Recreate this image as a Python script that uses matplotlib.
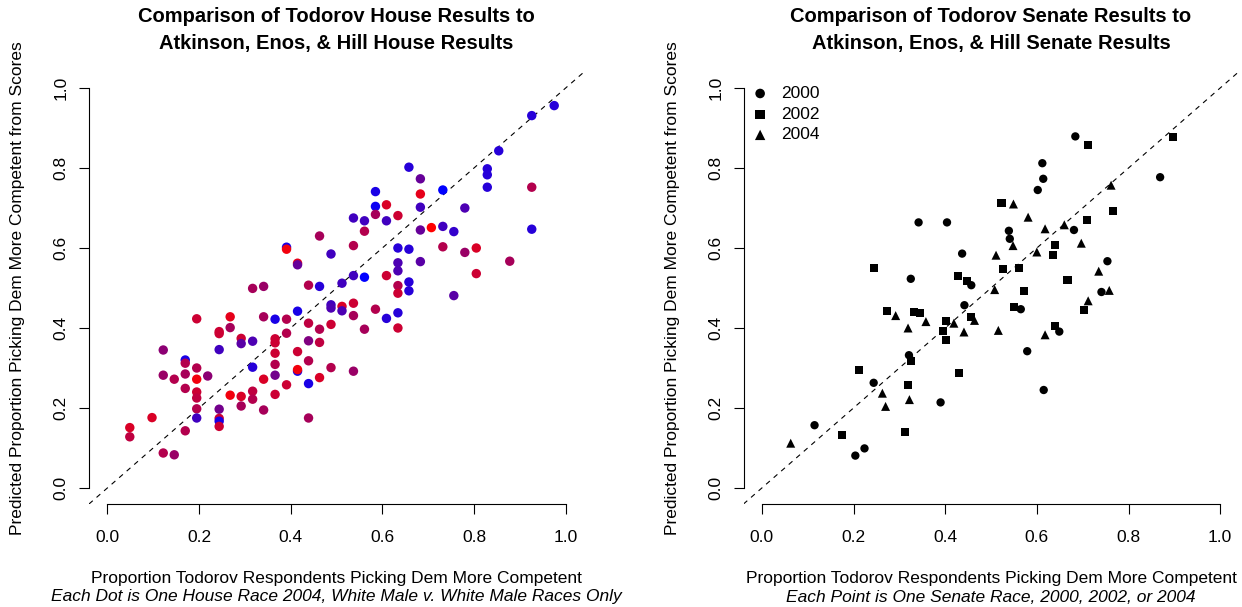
import numpy as np
import matplotlib
matplotlib.use("Agg")
import matplotlib.pyplot as plt

plt.rcParams['font.family'] = ['Liberation Sans', 'DejaVu Sans']

# House races: x = Todorov share, y = predicted share, c = 0 red ... 1 blue
house_x = [0.975, 0.926, 0.854, 0.829, 0.829, 0.829, 0.926, 0.658, 0.683, 0.683,
           0.732, 0.585, 0.585, 0.609, 0.585, 0.634, 0.683, 0.780, 0.537, 0.561,
           0.609, 0.561, 0.707, 0.683, 0.732, 0.756, 0.926, 0.463, 0.391, 0.391,
           0.488, 0.537, 0.634, 0.658, 0.732, 0.780, 0.805, 0.878, 0.415, 0.415,
           0.634, 0.634, 0.683, 0.805, 0.537, 0.561, 0.609, 0.658, 0.634, 0.658,
           0.512, 0.463, 0.439, 0.341, 0.317, 0.634, 0.756, 0.488, 0.488, 0.512,
           0.512, 0.537, 0.537, 0.585, 0.609, 0.634, 0.634, 0.561, 0.415, 0.366,
           0.391, 0.439, 0.463, 0.488, 0.439, 0.463, 0.391, 0.366, 0.366, 0.341,
           0.268, 0.268, 0.244, 0.244, 0.195, 0.292, 0.292, 0.317, 0.244, 0.122,
           0.170, 0.170, 0.195, 0.366, 0.366, 0.415, 0.439, 0.317, 0.415, 0.415,
           0.488, 0.537, 0.122, 0.146, 0.170, 0.195, 0.219, 0.170, 0.195, 0.195,
           0.195, 0.195, 0.244, 0.244, 0.244, 0.244, 0.268, 0.292, 0.317, 0.317,
           0.292, 0.341, 0.341, 0.366, 0.391, 0.366, 0.439, 0.463, 0.439, 0.0975,
           0.049, 0.049, 0.170, 0.122, 0.146]
house_y = [0.956, 0.931, 0.843, 0.798, 0.783, 0.752, 0.752, 0.802, 0.773, 0.735,
           0.745, 0.741, 0.704, 0.708, 0.684, 0.681, 0.702, 0.700, 0.675, 0.668,
           0.668, 0.642, 0.651, 0.645, 0.654, 0.641, 0.647, 0.630, 0.602, 0.597,
           0.585, 0.606, 0.600, 0.597, 0.603, 0.589, 0.600, 0.567, 0.562, 0.558,
           0.563, 0.543, 0.566, 0.536, 0.531, 0.527, 0.531, 0.515, 0.506, 0.493,
           0.512, 0.504, 0.507, 0.504, 0.499, 0.487, 0.481, 0.458, 0.450, 0.454,
           0.443, 0.462, 0.431, 0.447, 0.424, 0.438, 0.400, 0.397, 0.442, 0.422,
           0.422, 0.412, 0.397, 0.409, 0.368, 0.364, 0.387, 0.373, 0.363, 0.428,
           0.428, 0.401, 0.391, 0.386, 0.423, 0.374, 0.361, 0.367, 0.346, 0.345,
           0.320, 0.312, 0.300, 0.337, 0.309, 0.341, 0.318, 0.302, 0.292, 0.296,
           0.301, 0.292, 0.282, 0.272, 0.285, 0.272, 0.280, 0.249, 0.240, 0.225,
           0.198, 0.175, 0.197, 0.174, 0.167, 0.154, 0.232, 0.229, 0.242, 0.222,
           0.205, 0.272, 0.195, 0.282, 0.258, 0.234, 0.261, 0.276, 0.175, 0.176,
           0.151, 0.128, 0.143, 0.0875, 0.083]
house_c = [0.85, 0.85, 0.85, 0.85, 0.85, 0.85, 0.30, 0.85, 0.60, 0.10,
           1.00, 0.90, 0.95, 0.15, 0.35, 0.20, 0.75, 0.70, 0.75, 0.75,
           0.75, 0.30, 0.00, 0.60, 0.75, 0.80, 0.85, 0.35, 0.90, 0.05,
           0.75, 0.30, 0.85, 0.85, 0.30, 0.40, 0.15, 0.35, 0.10, 0.60,
           0.70, 0.70, 0.65, 0.20, 0.75, 1.00, 0.20, 0.85, 0.30, 0.85,
           0.75, 0.85, 0.30, 0.40, 0.35, 0.20, 0.65, 0.75, 0.70, 0.15,
           0.70, 0.20, 0.35, 0.30, 0.85, 0.85, 0.20, 0.35, 0.90, 0.90,
           0.30, 0.25, 0.30, 0.20, 0.50, 0.25, 0.30, 0.20, 0.20, 0.35,
           0.10, 0.35, 0.20, 0.20, 0.20, 0.20, 0.65, 0.70, 0.75, 0.45,
           0.90, 0.30, 0.30, 0.20, 0.30, 0.20, 0.30, 0.85, 0.90, 0.05,
           0.30, 0.40, 0.40, 0.30, 0.35, 0.05, 0.45, 0.30, 0.20, 0.25,
           0.30, 0.75, 0.55, 0.20, 0.90, 0.20, 0.05, 0.15, 0.25, 0.30,
           0.35, 0.15, 0.35, 0.55, 0.20, 0.20, 0.90, 0.15, 0.35, 0.15,
           0.15, 0.25, 0.30, 0.30, 0.40]

# Senate races by year
sen2000_x = [0.684, 0.612, 0.614, 0.602, 0.869, 0.342, 0.404, 0.539, 0.541, 0.681,
             0.437, 0.754, 0.325, 0.457, 0.741, 0.442, 0.565, 0.649, 0.579, 0.615,
             0.321, 0.244, 0.390, 0.115, 0.224, 0.204]
sen2000_y = [0.879, 0.812, 0.773, 0.745, 0.777, 0.664, 0.664, 0.643, 0.623, 0.645,
             0.586, 0.567, 0.523, 0.507, 0.490, 0.457, 0.447, 0.391, 0.342, 0.245,
             0.332, 0.263, 0.214, 0.157, 0.099, 0.081]
sen2002_x = [0.712, 0.898, 0.523, 0.767, 0.710, 0.639, 0.636, 0.245, 0.527, 0.561,
             0.667, 0.428, 0.448, 0.572, 0.703, 0.551, 0.457, 0.401, 0.396, 0.402,
             0.640, 0.273, 0.332, 0.345, 0.326, 0.212, 0.318, 0.431, 0.313, 0.175]
sen2002_y = [0.857, 0.877, 0.712, 0.692, 0.669, 0.607, 0.582, 0.549, 0.547, 0.549,
             0.519, 0.529, 0.517, 0.493, 0.444, 0.452, 0.427, 0.418, 0.392, 0.369,
             0.406, 0.442, 0.439, 0.437, 0.317, 0.294, 0.258, 0.287, 0.139, 0.132]
sen2004_x = [0.549, 0.762, 0.581, 0.618, 0.660, 0.548, 0.697, 0.511, 0.600, 0.735,
             0.508, 0.758, 0.712, 0.464, 0.441, 0.419, 0.516, 0.618, 0.292, 0.319,
             0.358, 0.263, 0.270, 0.322, 0.063]
sen2004_y = [0.710, 0.757, 0.677, 0.648, 0.658, 0.606, 0.612, 0.582, 0.590, 0.542,
             0.496, 0.494, 0.468, 0.419, 0.390, 0.412, 0.394, 0.383, 0.431, 0.400,
             0.416, 0.237, 0.204, 0.221, 0.112]

ticks = [0.0, 0.2, 0.4, 0.6, 0.8, 1.0]
tick_labels = ["0.0", "0.2", "0.4", "0.6", "0.8", "1.0"]


def r_style(ax):
    ax.set_xlim(-0.04, 1.04)
    ax.set_ylim(-0.04, 1.04)
    for s in ['top', 'right']:
        ax.spines[s].set_visible(False)
    for s in ['left', 'bottom']:
        ax.spines[s].set_bounds(0, 1)
        ax.spines[s].set_linewidth(0.8)
    ax.set_xticks(ticks)
    ax.set_xticklabels(tick_labels)
    ax.set_yticks(ticks)
    ax.set_yticklabels(tick_labels, rotation=90, va='center')
    ax.tick_params(axis='both', length=7, width=0.8, labelsize=12.5)
    ax.tick_params(axis='x', pad=11.5)
    ax.tick_params(axis='y', pad=7.5)
    ax.axline((0, 0), (1, 1), color='black', lw=0.8, linestyle=(0, (4.5, 4.5)), zorder=1)


W, H = 1242, 607
fig = plt.figure(figsize=(W / 100, H / 100), dpi=100)
ax1 = fig.add_axes([89 / W, 1 - 504 / H, 495 / W, 432 / H])
ax2 = fig.add_axes([743.5 / W, 1 - 504 / H, 495 / W, 432 / H])

# left panel: house
cols = [(1 - c, 0, c) for c in house_c]
r_style(ax1)
ax1.scatter(house_x, house_y, s=46, c=cols, edgecolors='none', zorder=2)

# right panel: senate
r_style(ax2)
ax2.scatter(sen2000_x, sen2000_y, s=36, marker='o', color='black', edgecolors='none', label='2000', zorder=2)
ax2.scatter(sen2002_x, sen2002_y, s=34, marker='s', color='black', edgecolors='none', label='2002', zorder=2)
ax2.scatter(sen2004_x, sen2004_y, s=42, marker='^', color='black', edgecolors='none', label='2004', zorder=2)
ax2.legend(loc='upper left', bbox_to_anchor=(-0.012, 1.0), frameon=False, fontsize=12.5,
           handlelength=1.0, handletextpad=0.7, labelspacing=0.32, borderaxespad=0.2,
           borderpad=0.6, markerscale=1.15)

# titles and axis labels
for ax, t1, t2, sub in [
        (ax1, "Comparison of Todorov House Results to",
         "Atkinson, Enos, & Hill House Results",
         "Each Dot is One House Race 2004, White Male v. White Male Races Only"),
        (ax2, "Comparison of Todorov Senate Results to",
         "Atkinson, Enos, & Hill Senate Results",
         "Each Point is One Senate Race, 2000, 2002, or 2004")]:
    pos = ax.get_position()
    xc = (pos.x0 + pos.x1) / 2
    fig.text(xc, 1 - 17 / H, t1, ha='center', va='center', fontsize=14.5, fontweight='bold')
    fig.text(xc, 1 - 43 / H, t2, ha='center', va='center', fontsize=14.5, fontweight='bold')
    fig.text(xc, 1 - 578 / H, "Proportion Todorov Respondents Picking Dem More Competent",
             ha='center', va='center', fontsize=12.5)
    fig.text(xc, 1 - 597 / H, sub, ha='center', va='center', fontsize=12.5, style='italic')

fig.text(18 / W, 1 - 288 / H, "Predicted Proportion Picking Dem More Competent from Scores",
         ha='center', va='center', rotation=90, fontsize=12.5)
fig.text(672 / W, 1 - 288 / H, "Predicted Proportion Picking Dem More Competent from Scores",
         ha='center', va='center', rotation=90, fontsize=12.5)

fig.savefig("out.png", dpi=100)
